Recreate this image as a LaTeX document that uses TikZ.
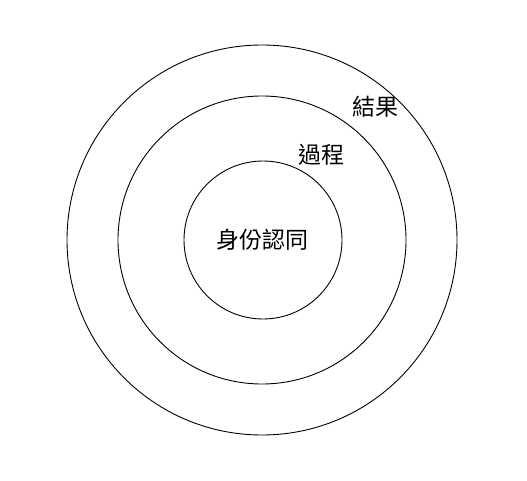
\documentclass[tikz,border=0pt]{standalone}
\usepackage{fontspec}
\newfontfamily\cjk{Noto Sans CJK TC}
\begin{document}
\begin{tikzpicture}[x=1pt,y=1pt,
  ring/.style={draw=black,line width=0.9pt,circle,inner sep=0pt},
  lbl/.style={font=\cjk\fontsize{23}{26}\selectfont,inner sep=0pt}]
\useasboundingbox[fill=white] (0,0) rectangle (527,480);
\node[ring,minimum size=390pt] (outer) at (262,240) {};
\node[ring,minimum size=288pt] (middle) at (262,240) {};
\node[ring,minimum size=158pt] (inner) at (263,240) {};
\node[lbl] (core) at (262,240) {身份認同};
\node[lbl] (proc) at (321,325) {過程};
\node[lbl] (res) at (375,373) {結果};
\end{tikzpicture}
\end{document}
